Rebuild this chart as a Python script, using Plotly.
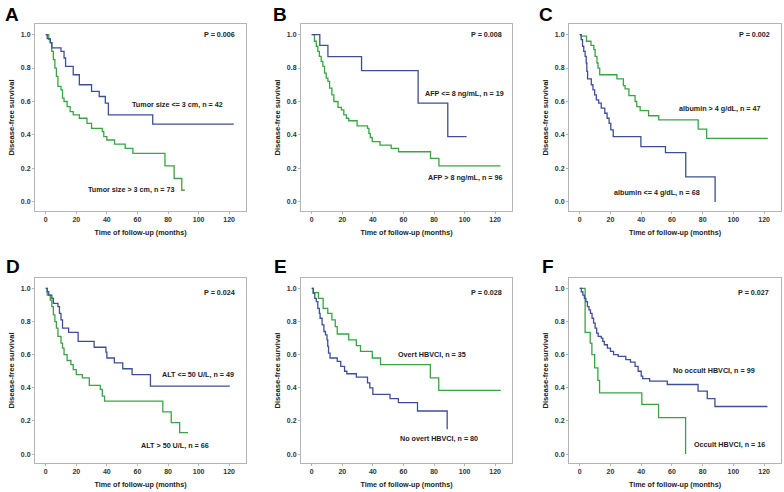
import plotly.graph_objects as go

# ---------- data ----------
a_blue_t = [0, 1, 3, 4, 10, 12, 13, 18, 22, 30, 35, 39, 41, 70, 123]
a_blue_s = [1.0, 0.976, 0.952, 0.92, 0.90, 0.86, 0.81, 0.76, 0.70, 0.66, 0.63, 0.59, 0.52, 0.465, 0.465]
a_green_t = [0, 2, 3, 4, 5, 6, 7, 8, 10, 11, 12, 14, 16, 18, 22, 27, 30, 37, 38, 40, 45, 52, 57, 78, 84, 89, 91]
a_green_s = [1.0, 0.97, 0.95, 0.90, 0.85, 0.80, 0.75, 0.69, 0.67, 0.62, 0.60, 0.57, 0.54, 0.52, 0.50, 0.47, 0.44, 0.42, 0.39, 0.37, 0.345, 0.32, 0.29, 0.215, 0.14, 0.07, 0.07]

b_blue_t = [0, 5.3, 10.6, 32.6, 69.6, 89, 101.3]
b_blue_s = [1.0, 0.935, 0.868, 0.785, 0.59, 0.39, 0.39]
b_green_t = [0, 1.8, 3, 4, 5, 6.2, 7.3, 8.4, 9.5, 10.6, 11.7, 13.2, 14.5, 17.2, 19.4, 21, 22.7, 24.2, 29.7, 36.5, 37.4, 38.3, 39.6, 44.7, 52, 56.8, 77.7, 83.2, 123.5]
b_green_s = [1.0, 0.96, 0.93, 0.90, 0.87, 0.84, 0.81, 0.77, 0.74, 0.72, 0.68, 0.64, 0.60, 0.565, 0.55, 0.52, 0.50, 0.485, 0.455, 0.44, 0.41, 0.385, 0.36, 0.34, 0.32, 0.30, 0.26, 0.215, 0.215]

c_green_t = [0, 0.9, 4.4, 7.3, 9.2, 10, 11.2, 11.9, 13, 24.2, 28.4, 29.5, 32, 36, 37.1, 39.3, 44.8, 51.4, 77.1, 82.6, 122.4]
c_green_s = [1.0, 0.99, 0.96, 0.935, 0.91, 0.87, 0.83, 0.80, 0.76, 0.735, 0.695, 0.675, 0.635, 0.60, 0.57, 0.545, 0.515, 0.49, 0.435, 0.38, 0.38]
c_blue_t = [0, 0.9, 1.8, 2.6, 3.5, 4.2, 4.6, 5.1, 7.5, 8.6, 9.7, 10.8, 12.3, 14, 16.3, 17.8, 19.1, 20.2, 21.8, 39.8, 55.8, 69, 88.1]
c_blue_s = [1.0, 0.97, 0.93, 0.90, 0.87, 0.83, 0.78, 0.735, 0.70, 0.67, 0.64, 0.61, 0.59, 0.56, 0.53, 0.50, 0.47, 0.43, 0.39, 0.33, 0.295, 0.15, 0.0]

d_blue_t = [0, 1, 2, 4, 5, 8, 9, 10, 11, 15, 21.2, 31.7, 39.4, 40, 44.9, 50.4, 56.5, 68.5, 120.4]
d_blue_s = [1.0, 0.98, 0.96, 0.94, 0.91, 0.89, 0.85, 0.81, 0.76, 0.735, 0.68, 0.645, 0.615, 0.58, 0.55, 0.515, 0.48, 0.41, 0.41]
d_green_t = [0, 1, 3, 4, 5, 6, 7, 8, 10, 11, 12, 14, 16.5, 18, 20, 24, 28.5, 35.7, 37, 38.5, 76.6, 82.1, 87.6, 93.1]
d_green_s = [1.0, 0.96, 0.93, 0.89, 0.84, 0.80, 0.76, 0.71, 0.67, 0.64, 0.60, 0.565, 0.54, 0.51, 0.48, 0.46, 0.415, 0.39, 0.35, 0.32, 0.255, 0.19, 0.13, 0.13]

e_green_t = [0, 1, 4.4, 7.5, 10.5, 13.2, 15.4, 16.7, 24.2, 29.2, 31.9, 39.6, 45, 77.6, 83.1, 123.7]
e_green_s = [1.0, 0.975, 0.94, 0.88, 0.85, 0.81, 0.77, 0.725, 0.69, 0.655, 0.62, 0.58, 0.54, 0.46, 0.385, 0.385]
e_blue_t = [0, 1, 2, 3, 4, 5, 5.5, 6.8, 8, 9, 10, 10.5, 11, 12, 16.7, 19, 21.5, 23, 29.2, 36.5, 38, 40, 51.2, 56.7, 69.2, 88.6]
e_blue_s = [1.0, 0.97, 0.94, 0.92, 0.88, 0.85, 0.82, 0.78, 0.74, 0.72, 0.69, 0.65, 0.61, 0.58, 0.56, 0.53, 0.50, 0.485, 0.465, 0.43, 0.40, 0.36, 0.335, 0.31, 0.26, 0.15]

f_green_t = [0, 3.5, 6.8, 7.9, 9.7, 11.8, 12.9, 40.4, 51.3, 68.9]
f_green_s = [1.0, 0.735, 0.67, 0.60, 0.52, 0.445, 0.37, 0.30, 0.22, 0.0]
f_blue_t = [0, 1, 2, 3, 4, 5, 6, 7, 8, 9, 10, 11, 12, 14, 15, 16, 18, 20, 22, 25, 30, 33, 36, 38, 40, 41, 45.5, 57, 77, 83, 88, 122.2]
f_blue_s = [1.0, 0.98, 0.96, 0.94, 0.92, 0.89, 0.87, 0.85, 0.82, 0.79, 0.76, 0.73, 0.71, 0.70, 0.68, 0.66, 0.64, 0.62, 0.60, 0.59, 0.57, 0.555, 0.53, 0.50, 0.47, 0.455, 0.44, 0.42, 0.38, 0.335, 0.287, 0.287]

panel_letters = ["A", "B", "C", "D", "E", "F"]
p_values = ["P = 0.006", "P = 0.008", "P = 0.002", "P = 0.024", "P = 0.028", "P = 0.027"]
blue_labels = ["Tumor size <= 3 cm, n = 42", "AFP <= 8 ng/mL, n = 19", "albumin <= 4 g/dL, n = 68",
               "ALT <= 50 U/L, n = 49", "No overt HBVCI, n = 80", "No occult HBVCI, n = 99"]
green_labels = ["Tumor size > 3 cm, n = 73", "AFP > 8 ng/mL, n = 96", "albumin > 4 g/dL, n = 47",
                "ALT > 50 U/L, n = 66", "Overt HBVCI, n = 35", "Occult HBVCI, n = 16"]
blue_label_pos = [(86.4, 0.583), (99.7, 0.645), (50.5, 0.056), (99.6, 0.478), (83, 0.094), (87.1, 0.506)]
green_label_pos = [(56.3, 0.072), (100.4, 0.147), (91, 0.56), (84.3, 0.052), (78.7, 0.603), (97.4, 0.058)]
p_pos = [(113.7, 1.0), (114, 1.0), (113.6, 1.0), (113.9, 0.975), (114.3, 0.976), (113.4, 0.975)]

x_ticks = [0, 20, 40, 60, 80, 100, 120]
y_ticks = [0.0, 0.2, 0.4, 0.6, 0.8, 1.0]

blue_series = [(a_blue_t, a_blue_s), (b_blue_t, b_blue_s), (c_blue_t, c_blue_s),
               (d_blue_t, d_blue_s), (e_blue_t, e_blue_s), (f_blue_t, f_blue_s)]
green_series = [(a_green_t, a_green_s), (b_green_t, b_green_s), (c_green_t, c_green_s),
                (d_green_t, d_green_s), (e_green_t, e_green_s), (f_green_t, f_green_s)]

# ---------- layout ----------
W, H = 784, 492
BLUE = "#3d4f96"
GREEN = "#3aa444"
FONT = "Liberation Sans, Arial, sans-serif"

col_px = [(35, 246), (301, 512), (569, 781)]
row_px = [(24, 211), (278, 463)]
letter_px = [(4, 3), (272, 3), (538, 3), (5, 255), (273, 255), (541, 255)]

fig = go.Figure()

for i in range(6):
    r, c = divmod(i, 3)
    ax = "" if i == 0 else str(i + 1)
    xd = [col_px[c][0] / W, col_px[c][1] / W]
    yd = [1 - row_px[r][1] / H, 1 - row_px[r][0] / H]
    xref = "x" + ax
    yref = "y" + ax

    for (t, s), col in ((green_series[i], GREEN), (blue_series[i], BLUE)):
        fig.add_trace(go.Scatter(x=t, y=s, mode="lines", line=dict(color=col, width=1.3, shape="hv"),
                                 xaxis=xref, yaxis=yref, showlegend=False, hoverinfo="skip"))

    axis_common = dict(showgrid=False, zeroline=False, showline=True, mirror=True,
                       linecolor="#b4b4b4", linewidth=1, ticks="outside", ticklen=2,
                       tickcolor="#b4b4b4", tickwidth=1,
                       tickfont=dict(family=FONT, size=7, color="#333333", weight="bold"))
    fig.layout["xaxis" + ax] = dict(domain=xd, anchor=yref, range=[-7, 131], tickvals=x_ticks,
                                    title=dict(text="Time of follow-up (months)", standoff=7,
                                               font=dict(family=FONT, size=7.2, color="#222222", weight="bold")),
                                    **axis_common)
    fig.layout["yaxis" + ax] = dict(domain=yd, anchor=xref, range=[-0.054, 1.063], tickvals=y_ticks,
                                    tickformat=".1f",
                                    title=dict(text="Disease-free survival", standoff=5,
                                               font=dict(family=FONT, size=7.6, color="#222222", weight="bold")),
                                    **axis_common)

    afont = dict(family=FONT, size=7.2, color="#222222", weight="bold")
    fig.add_annotation(x=p_pos[i][0], y=p_pos[i][1], xref=xref, yref=yref, text=p_values[i],
                       showarrow=False, font=afont)
    fig.add_annotation(x=blue_label_pos[i][0], y=blue_label_pos[i][1], xref=xref, yref=yref,
                       text=blue_labels[i], showarrow=False, font=afont)
    fig.add_annotation(x=green_label_pos[i][0], y=green_label_pos[i][1], xref=xref, yref=yref,
                       text=green_labels[i], showarrow=False, font=afont)
    # panel letter
    fig.add_annotation(x=letter_px[i][0] / W, y=1 - letter_px[i][1] / H, xref="paper", yref="paper",
                       text=panel_letters[i], showarrow=False, xanchor="left", yanchor="top",
                       borderpad=0,
                       font=dict(family=FONT, size=19, color="#000000", weight="bold"))

fig.update_layout(width=W, height=H, margin=dict(l=0, r=0, t=0, b=0),
                  paper_bgcolor="white", plot_bgcolor="white")

fig.write_html("out.html", config={"displayModeBar": False},
               post_script="document.body.style.margin='0';document.body.style.overflow='hidden';")
